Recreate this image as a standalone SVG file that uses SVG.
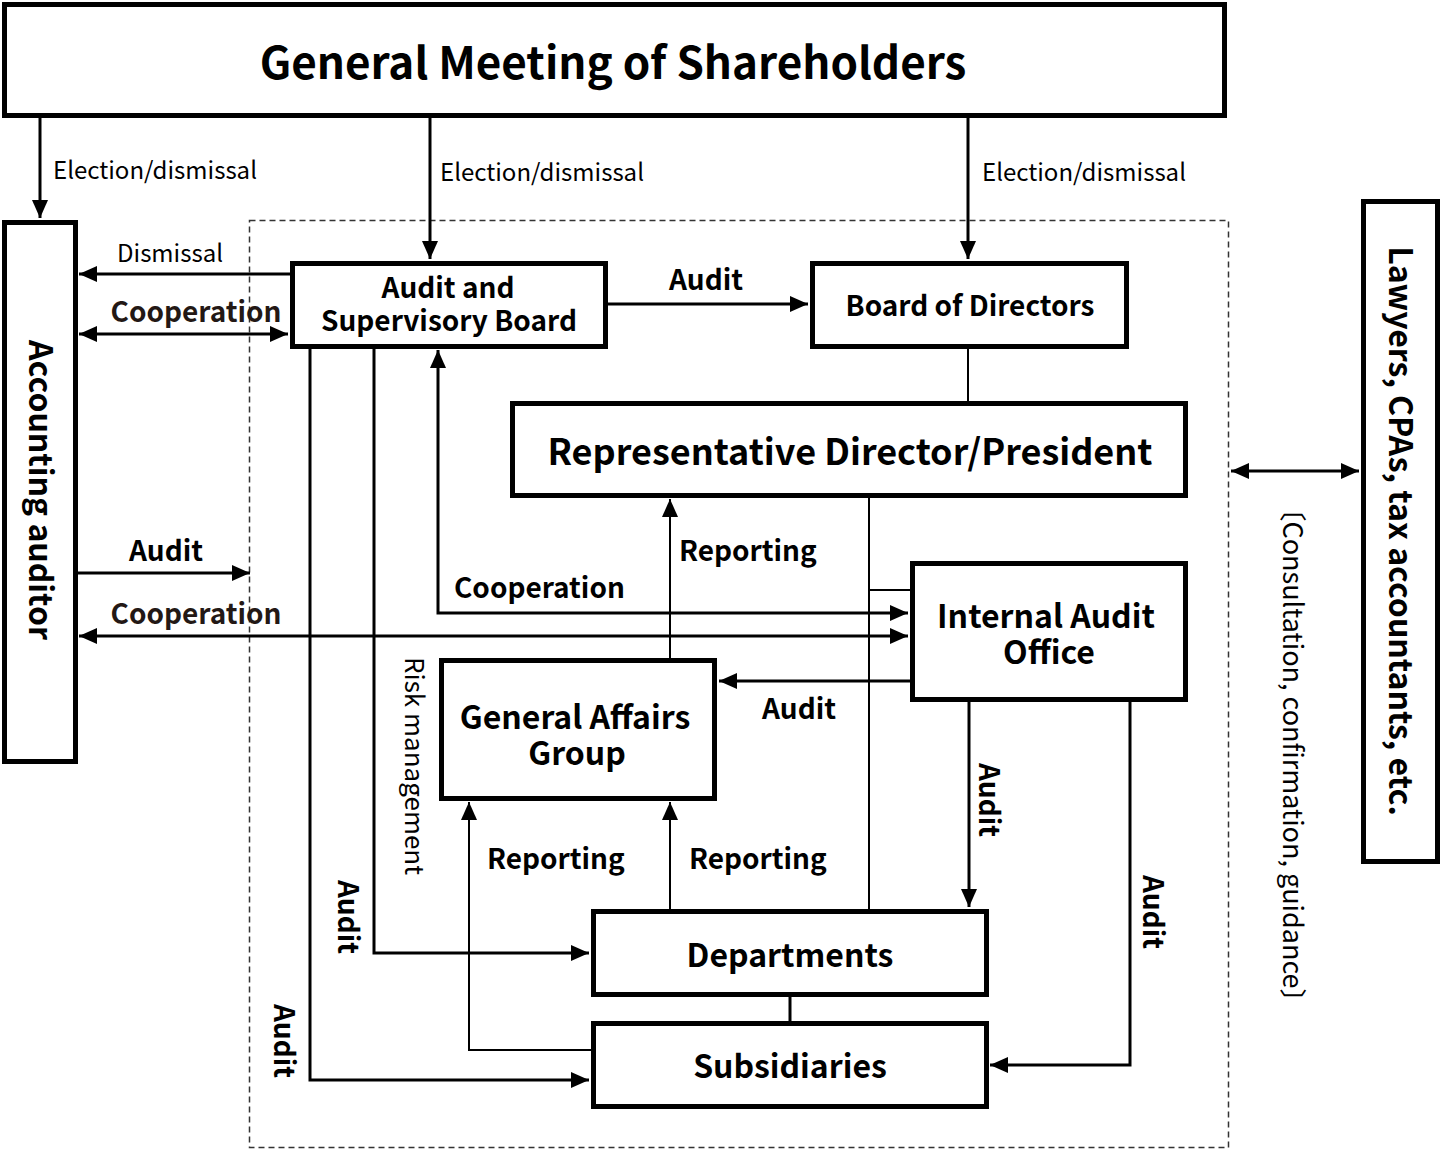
<svg xmlns="http://www.w3.org/2000/svg" width="1440" height="1150" viewBox="0 0 1440 1150">
<style>
.box{fill:#fff;stroke:#000;stroke-width:5}
.t{font-family:"Noto Sans CJK JP","Noto Sans",sans-serif;fill:#000}
.b{font-weight:700}
.n{font-weight:400}
.c{text-anchor:middle}
.ln{fill:none;stroke:#000;stroke-width:3}
.th{fill:none;stroke:#000;stroke-width:2}
.br{fill:#231815}
</style>
<defs>
<marker id="ah" viewBox="0 0 18 16" refX="18" refY="8" markerWidth="18" markerHeight="16" markerUnits="userSpaceOnUse" orient="auto-start-reverse">
<path d="M0,0 L18,8 L0,16 z" fill="#000"/>
</marker>
</defs>
<rect x="249.5" y="220.5" width="979" height="927" fill="none" stroke="#333" stroke-width="1.5" stroke-dasharray="6 4"/>
<g id="connectors">
<path class="ln" d="M40,117 V218" marker-end="url(#ah)"/>
<path class="ln" d="M430,117 V259" marker-end="url(#ah)"/>
<path class="ln" d="M968,117 V259" marker-end="url(#ah)"/>
<path class="ln" d="M290,274 H79" marker-end="url(#ah)"/>
<path class="ln" d="M79,334 H288" marker-start="url(#ah)" marker-end="url(#ah)"/>
<path class="ln" d="M607,304 H808" marker-end="url(#ah)"/>
<path class="th" d="M968,348 V401"/>
<path class="ln" d="M77,573 H250" marker-end="url(#ah)"/>
<path class="ln" d="M79,636 H908" marker-start="url(#ah)" marker-end="url(#ah)"/>
<path class="ln" d="M438,350 V613 H908" marker-start="url(#ah)" marker-end="url(#ah)"/>
<path class="th" d="M670,658 V499" marker-end="url(#ah)"/>
<path class="th" d="M869,497 V909 M869,590 H910"/>
<path class="ln" d="M910,681 H719" marker-end="url(#ah)"/>
<path class="ln" d="M969,701 V907" marker-end="url(#ah)"/>
<path class="ln" d="M1130,701 V1065 H990" marker-end="url(#ah)"/>
<path class="ln" d="M374,348 V953 H589" marker-end="url(#ah)"/>
<path class="ln" d="M310,348 V1080 H589" marker-end="url(#ah)"/>
<path class="th" d="M670,909 V802" marker-end="url(#ah)"/>
<path class="th" d="M591,1050 H469 V802" marker-end="url(#ah)"/>
<path class="ln" d="M790,996 V1021"/>
<path class="ln" d="M1231,471 H1359" marker-start="url(#ah)" marker-end="url(#ah)"/>
</g>
<g id="labels">
<text class="t n" x="53" y="179" font-size="24">Election/dismissal</text>
<text class="t n" x="440" y="181" font-size="24">Election/dismissal</text>
<text class="t n" x="982" y="181" font-size="24">Election/dismissal</text>
<text class="t n c" x="170" y="262" font-size="24">Dismissal</text>
<text class="t b c br" x="196" y="322" font-size="28">Cooperation</text>
<text class="t b c" x="706" y="290" font-size="28">Audit</text>
<text class="t b c" x="166" y="561" font-size="28">Audit</text>
<text class="t b c br" x="196" y="624" font-size="28">Cooperation</text>
<text class="t b" x="454" y="598" font-size="28">Cooperation</text>
<text class="t b" x="679" y="561" font-size="28">Reporting</text>
<text class="t b c" x="799" y="719" font-size="28">Audit</text>
<text class="t b" x="487" y="869" font-size="28">Reporting</text>
<text class="t b" x="689" y="869" font-size="28">Reporting</text>
<text class="t b c" transform="translate(989,800) rotate(90)" x="0" y="10" font-size="28">Audit</text>
<text class="t b c" transform="translate(1153,912) rotate(90)" x="0" y="10" font-size="28">Audit</text>
<text class="t b c" transform="translate(348,917) rotate(90)" x="0" y="10" font-size="28">Audit</text>
<text class="t b c" transform="translate(284,1041) rotate(90)" x="0" y="10" font-size="28">Audit</text>
<text class="t n c" transform="translate(414,766) rotate(90)" x="0" y="9" font-size="26">Risk management</text>
<text class="t n c" transform="translate(1293,755) rotate(90)" x="0" y="10" font-size="27">〔Consultation, confirmation, guidance〕</text>
</g>
<g id="gms">
<rect class="box" x="4.5" y="4.5" width="1220" height="111"/>
<text class="t b c" x="613" y="79" font-size="44">General Meeting of Shareholders</text>
</g>
<g id="accounting-auditor">
<rect class="box" x="4.5" y="222.5" width="71" height="539"/>
<text class="t b c" transform="translate(40,490) rotate(90)" x="0" y="11" font-size="32">Accounting auditor</text>
</g>
<g id="asb">
<rect class="box" x="292.5" y="263.5" width="313" height="83"/>
<text class="t b c" x="448" y="298" font-size="28">Audit and</text>
<text class="t b c" x="449" y="331" font-size="28">Supervisory Board</text>
</g>
<g id="bod">
<rect class="box" x="812.5" y="263.5" width="314" height="83"/>
<text class="t b c" x="970" y="316" font-size="28">Board of Directors</text>
</g>
<g id="rep">
<rect class="box" x="512.5" y="403.5" width="673" height="92"/>
<text class="t b c" x="850" y="465" font-size="36">Representative Director/President</text>
</g>
<g id="iao">
<rect class="box" x="912.5" y="563.5" width="273" height="136"/>
<text class="t b c" x="1046" y="628" font-size="32">Internal Audit</text>
<text class="t b c" x="1049" y="664" font-size="32">Office</text>
</g>
<g id="gag">
<rect class="box" x="441.5" y="660.5" width="273" height="138"/>
<text class="t b c" x="575" y="729" font-size="32">General Affairs</text>
<text class="t b c" x="577" y="765" font-size="32">Group</text>
</g>
<g id="departments">
<rect class="box" x="593.5" y="911.5" width="393" height="83"/>
<text class="t b c" x="790" y="967" font-size="32">Departments</text>
</g>
<g id="subsidiaries">
<rect class="box" x="593.5" y="1023.5" width="393" height="83"/>
<text class="t b c" x="790" y="1078" font-size="32">Subsidiaries</text>
</g>
<g id="lawyers">
<rect class="box" x="1363.5" y="201.5" width="74" height="660"/>
<text class="t b c" transform="translate(1400,531) rotate(90)" x="0" y="11" font-size="32">Lawyers, CPAs, tax accountants, etc.</text>
</g>
</svg>
